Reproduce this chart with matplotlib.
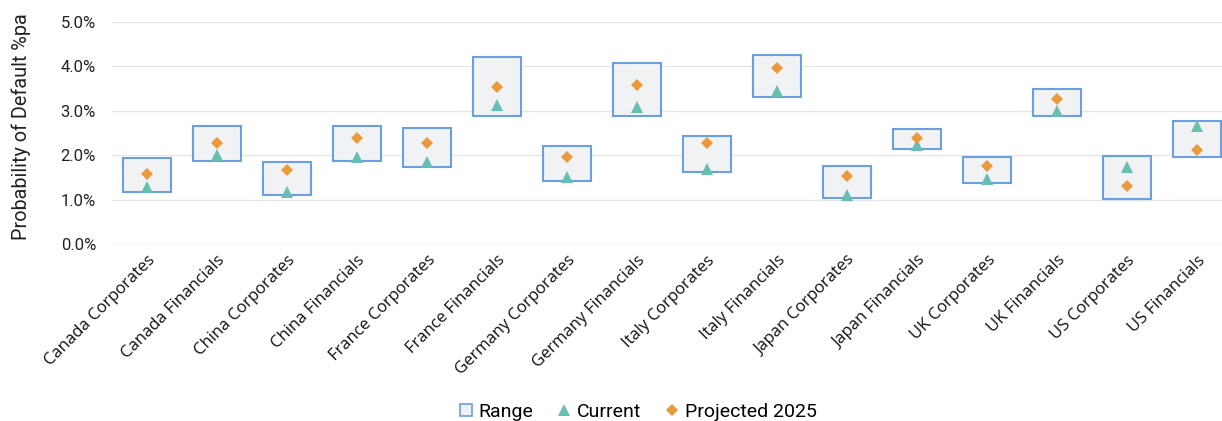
import matplotlib.pyplot as plt
from matplotlib.lines import Line2D
from matplotlib.ticker import FuncFormatter

plt.rcParams['font.family'] = ['Roboto', 'DejaVu Sans']

categories = ['Canada Corporates', 'Canada Financials', 'China Corporates', 'China Financials',
              'France Corporates', 'France Financials', 'Germany Corporates', 'Germany Financials',
              'Italy Corporates', 'Italy Financials', 'Japan Corporates', 'Japan Financials',
              'UK Corporates', 'UK Financials', 'US Corporates', 'US Financials']
range_low = [1.16, 1.88, 1.10, 1.86, 1.73, 2.88, 1.41, 2.89, 1.62, 3.32, 1.03, 2.14, 1.38, 2.88, 1.01, 1.97]
range_high = [1.94, 2.66, 1.85, 2.66, 2.61, 4.22, 2.21, 4.08, 2.43, 4.26, 1.76, 2.60, 1.97, 3.50, 1.98, 2.78]
current = [1.28, 2.01, 1.16, 1.97, 1.85, 3.14, 1.50, 3.08, 1.68, 3.44, 1.10, 2.22, 1.46, 2.99, 1.74, 2.66]
projected = [1.58, 2.27, 1.66, 2.39, 2.28, 3.53, 1.95, 3.57, 2.27, 3.96, 1.53, 2.39, 1.76, 3.26, 1.31, 2.11]

box_edge = '#6A9FE2'
box_fill = '#F1F2F4'
teal = '#66BFB1'
orange = '#E99A3C'

fig = plt.figure(figsize=(12.22, 4.21), dpi=100)
ax = fig.add_axes([112 / 1222, 177 / 421, 1110 / 1222, 222 / 421])

x = list(range(len(categories)))
heights = [h - l for h, l in zip(range_high, range_low)]
ax.bar(x, heights, bottom=range_low, width=0.69, facecolor=box_fill,
       edgecolor=box_edge, linewidth=1.5, zorder=2)
ax.plot(x, current, linestyle='none', marker='^', markersize=8.5,
        color=teal, markeredgewidth=0, zorder=3)
ax.plot(x, projected, linestyle='none', marker='D', markersize=6.5,
        color=orange, markeredgewidth=0, zorder=4)

ax.set_xlim(-0.5, 15.357)
ax.set_ylim(0, 5)
ax.set_yticks([0, 1, 2, 3, 4, 5])
ax.yaxis.set_major_formatter(FuncFormatter(lambda v, p: f'{v:.1f}%'))
ax.grid(axis='y', color='#E6E6E6', linewidth=1, zorder=0)
ax.set_axisbelow(True)
for s in ax.spines.values():
    s.set_visible(False)

ax.set_xticks(x)
ax.set_xticklabels(categories, rotation=45, ha='right', rotation_mode='anchor',
                   fontsize=12, color='#111111', family=['Open Sans', 'DejaVu Sans'])
ax.tick_params(axis='x', length=0, pad=6)
ax.tick_params(axis='y', length=0, pad=11.5, labelsize=12, labelcolor='#222222')
ax.set_ylabel('Probability of Default %pa', fontsize=14.3, color='#222222')
ax.yaxis.set_label_coords(-0.073, 0.527)

handles = [
    Line2D([], [], linestyle='none', marker='s', markersize=9, markerfacecolor=box_fill,
           markeredgecolor=box_edge, markeredgewidth=1.2),
    Line2D([], [], linestyle='none', marker='^', markersize=9, color=teal, markeredgewidth=0),
    Line2D([], [], linestyle='none', marker='D', markersize=6.5, color=orange, markeredgewidth=0),
]
fig.legend(handles, ['Range', 'Current', 'Projected 2025'], loc='center',
           bbox_to_anchor=(0.52, 0.022), ncol=3, frameon=False, fontsize=14,
           handletextpad=0.05, columnspacing=1.0, handlelength=1.2)

fig.savefig('out.png', dpi=100)
